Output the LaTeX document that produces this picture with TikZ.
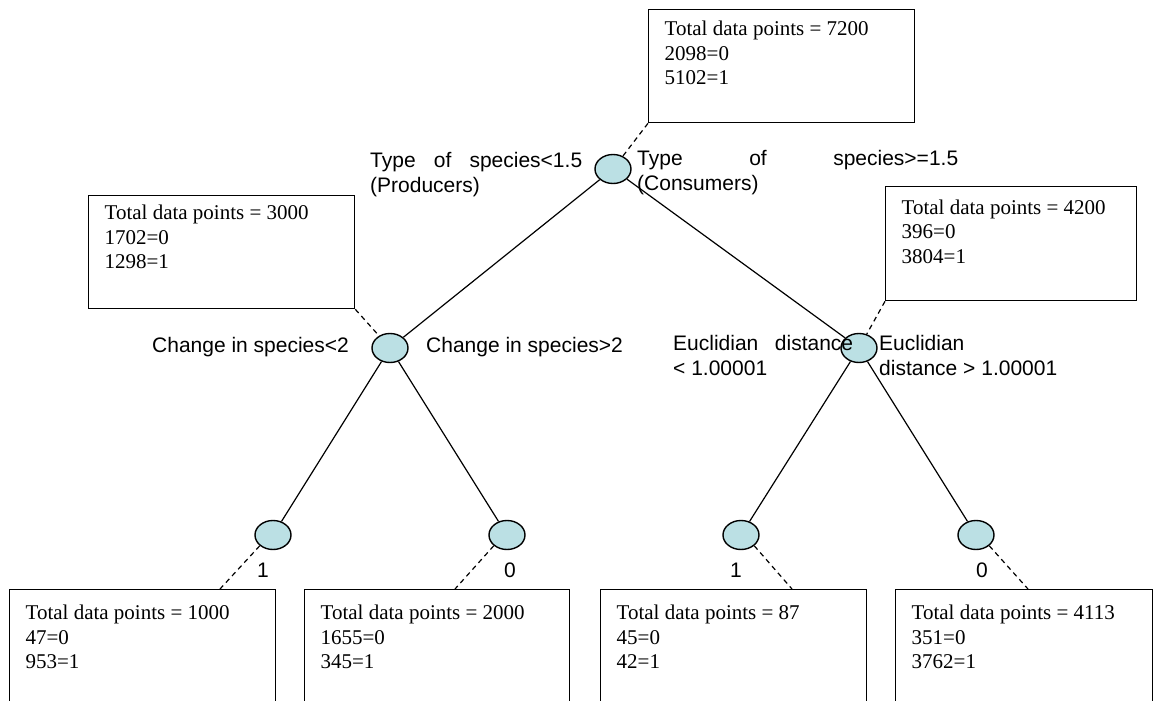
\documentclass[tikz,border=0pt]{standalone}
\usepackage{fontspec}
\setmainfont{Liberation Serif}
\newfontfamily\arialf{Liberation Sans}
\usetikzlibrary{shapes.geometric}
\definecolor{nodefill}{RGB}{187,224,228}
\newcommand{\dbx}[4]{\parbox[t][#2][t]{#1}{\raggedright\leftskip=16pt\relax\vspace*{#3}#4}}
\begin{document}
\begin{tikzpicture}[x=1pt,y=-1pt,
  splitnode/.style={ellipse, draw, line width=1.4pt, fill=nodefill, minimum width=36pt, minimum height=29pt, inner sep=0pt},
  edgeline/.style={line width=1.2pt},
  dline/.style={line width=1.2pt, dash pattern=on 5pt off 4pt},
  databox/.style={draw, line width=1.3pt, anchor=north west, inner sep=0pt, font=\fontsize{21}{24.5}\selectfont},
  lab/.style={font=\arialf\fontsize{21}{25}\selectfont, inner sep=0pt, anchor=north west, align=left},
  leaflab/.style={font=\arialf\fontsize{21}{25}\selectfont, inner sep=0pt}]
\useasboundingbox (0,0) rectangle (1154,701);
\clip (0,0) rectangle (1154,701);

% split nodes
\node[splitnode] (root) at (613,169) {};
\node[splitnode] (lm) at (390,348) {};
\node[splitnode] (rm) at (859,348) {};
\node[splitnode] (ll) at (273,535) {};
\node[splitnode] (lr) at (507,535) {};
\node[splitnode] (rl) at (741,535) {};
\node[splitnode] (rr) at (976,535) {};

% data boxes
\node[databox] (topbox) at (648,9) {\dbx{266pt}{113pt}{11.5pt}{Total data points = 7200\\2098=0\\5102=1}};
\node[databox] (lbox) at (88,195) {\dbx{266pt}{113pt}{9.5pt}{Total data points = 3000\\1702=0\\1298=1}};
\node[databox] (rbox) at (885,186) {\dbx{251pt}{114pt}{13pt}{Total data points = 4200\\396=0\\3804=1}};
\node[databox] (b1) at (9,589) {\dbx{266pt}{150pt}{15.5pt}{Total data points = 1000\\47=0\\953=1}};
\node[databox] (b2) at (304,589) {\dbx{265pt}{150pt}{15.5pt}{Total data points = 2000\\1655=0\\345=1}};
\node[databox] (b3) at (600,589) {\dbx{266pt}{150pt}{15.5pt}{Total data points = 87\\45=0\\42=1}};
\node[databox] (b4) at (895,589) {\dbx{257pt}{150pt}{15.5pt}{Total data points = 4113\\351=0\\3762=1}};

% solid edges
\draw[edgeline] (root) -- (lm);
\draw[edgeline] (root) -- (rm);
\draw[edgeline] (lm) -- (ll);
\draw[edgeline] (lm) -- (lr);
\draw[edgeline] (rm) -- (rl);
\draw[edgeline] (rm) -- (rr);

% dashed connectors
\draw[dline] (topbox.south west) -- (root);
\draw[dline] (lbox.south east) -- (lm);
\draw[dline] (rbox.south west) -- (rm);
\coordinate (t1) at (220,589);
\coordinate (t2) at (455,589);
\coordinate (t3) at (792,589);
\coordinate (t4) at (1028,589);
\draw[dline] (ll.south west) -- (t1);
\draw[dline] (lr.south west) -- (t2);
\draw[dline] (rl.south east) -- (t3);
\draw[dline] (rr.south east) -- (t4);

% split labels
\node[lab] (rootl) at (370,152) {\makebox[212pt][s]{Type of species<1.5}\\(Producers)};
\node[lab] (rootr) at (637,150) {\makebox[321pt][s]{Type of species>=1.5}\\(Consumers)};
\node[lab] (lml) at (152,337) {Change in species<2};
\node[lab] (lmr) at (426,337) {Change in species>2};
\node[lab] (rml) at (673,335) {\makebox[180pt][s]{Euclidian distance}\\< 1.00001};
\node[lab] (rmr) at (879,335) {Euclidian\\distance > 1.00001};

% leaf labels
\node[leaflab] (l1) at (263,570) {1};
\node[leaflab] (l2) at (510,570) {0};
\node[leaflab] (l3) at (736,570) {1};
\node[leaflab] (l4) at (982,570) {0};
\end{tikzpicture}
\end{document}
